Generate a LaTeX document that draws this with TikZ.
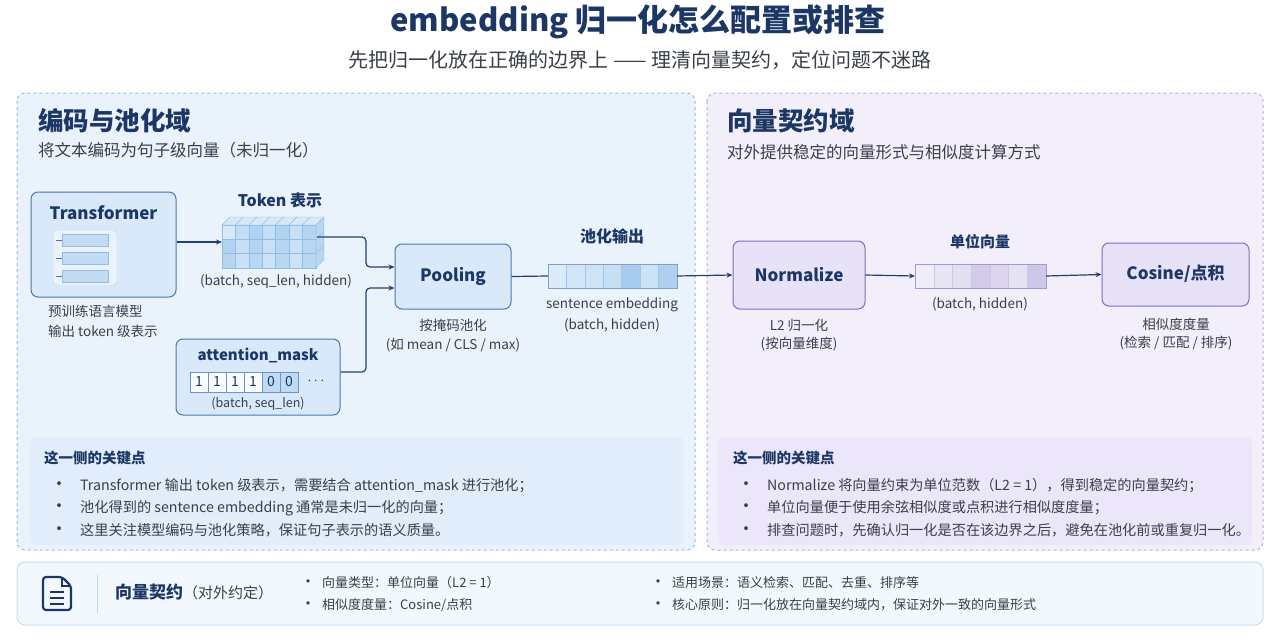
\documentclass[tikz,border=0pt]{standalone}
\usepackage{fontspec}
\setmainfont{Noto Sans CJK SC}
\usetikzlibrary{arrows.meta,calc}
\definecolor{navy}{HTML}{1C3766}
\definecolor{txt}{HTML}{3A3F4A}
\definecolor{bpanel}{HTML}{EAF3FC}
\definecolor{bborder}{HTML}{8FBDE8}
\definecolor{ppanel}{HTML}{F2EFFA}
\definecolor{pborder}{HTML}{B9A9E0}
\definecolor{bbox}{HTML}{D9E9F9}
\definecolor{bline}{HTML}{4A78B0}
\definecolor{sky}{HTML}{5FA3E0}
\definecolor{pbox}{HTML}{E8E2F8}
\definecolor{pline}{HTML}{7F6CC4}
\definecolor{arr}{HTML}{23416E}
\newcommand{\fs}[1]{\fontsize{#1}{#1}\selectfont}
\tikzset{
 every node/.style={inner sep=0pt,text=txt},
 box/.style={draw=bline,fill=bbox,rounded corners=7pt,line width=1pt},
 pbx/.style={draw=pline,fill=pbox,rounded corners=7pt,line width=1pt},
 ttl/.style={font=\fs{17}\bfseries,text=navy},
 lbl/.style={font=\fs{13.5},text=txt},
 con/.style={draw=arr,line width=1.2pt,-{Stealth[length=6pt,width=5pt]},rounded corners=4pt},
 bul/.style={font=\fs{14.2},text=txt,anchor=west},
}
\begin{document}
\begin{tikzpicture}[x=1pt,y=-1pt]
\useasboundingbox (0,0) rectangle (1280,640);
\fill[white] (0,0) rectangle (1280,640);
\node[font=\fs{31}\bfseries,text=navy] (title) at (638,22) {embedding 归一化怎么配置或排查};
\node[font=\fs{20},text=txt] (sub) at (640,60) {先把归一化放在正确的边界上 —— 理清向量契约，定位问题不迷路};
% panels
\draw[bborder,fill=bpanel,dashed,line width=1pt,rounded corners=8pt] (17,93) rectangle (695,550);
\draw[pborder,fill=ppanel,dashed,line width=1pt,rounded corners=8pt] (707,93) rectangle (1263,550);
\node[font=\fs{25.5}\bfseries,text=navy,anchor=west] (lh) at (38,121) {编码与池化域};
\node[font=\fs{16.5},text=txt,anchor=west] (ls) at (38,150) {将文本编码为句子级向量（未归一化）};
\node[font=\fs{25.5}\bfseries,text=navy,anchor=west] (rh) at (727,121) {向量契约域};
\node[font=\fs{16.5},text=txt,anchor=west] (rs) at (727,152) {对外提供稳定的向量形式与相似度计算方式};
% Transformer
\node[box,minimum width=145pt,minimum height=105pt] (tf) at (103.5,244.5) {};
\node[ttl] (tft) at (103.5,213) {Transformer};
\draw[bborder!70,fill=bpanel,rounded corners=4pt] (53,230) rectangle (117,285);
\foreach \y in {240,258,276}{\draw[bborder,fill=bbox!70!bborder] (62,\y-6) rectangle (108,\y+6); \draw[bline] (56,\y)--(62,\y);}
\node[lbl,anchor=west] (tfl1) at (48,311) {预训练语言模型};
\node[lbl,anchor=west] (tfl2) at (48,331) {输出 token 级表示};
% token cube
\def\cw{13.4}\def\ch{14.3}
\foreach \i in {0,...,6}{
 \foreach \j in {0,1,2}{
  \pgfmathsetmacro{\shh}{mod(\i*37+\j*23,25)+25}
  \draw[sky!70!white,fill=sky!\shh!white] (222+\i*\cw,225+\j*\ch) rectangle ++(\cw,\ch);}
 \draw[sky!70!white,fill=sky!25!white] (222+\i*\cw,225) -- ++(8,-8) -- ++(\cw,0) -- ++(-8,8) -- cycle;}
\foreach \j in {0,1,2}{\draw[sky!70!white,fill=sky!45!white] (222+7*\cw,225+\j*\ch) -- ++(8,-8) -- ++(0,\ch) -- ++(-8,8) -- cycle;}
\coordinate (cubeL) at (222,242);
\coordinate (cubeR) at (317,237);
\node[ttl,font=\fs{16}\bfseries] (tokt) at (280,200) {Token 表示};
\node[lbl] (tokl) at (276,282) {(batch, seq\_len, hidden)};
% Pooling
\node[box,minimum width=116pt,minimum height=65pt] (pool) at (453,276.5) {};
\node[ttl] (poolt) at (453,276) {Pooling};
\node[lbl] (pl1) at (453,325) {按掩码池化};
\node[lbl] (pl2) at (453,345) {(如 mean / CLS / max)};
% attention mask
\node[box,minimum width=164pt,minimum height=76pt] (am) at (258,377) {};
\node[ttl,font=\fs{15}\bfseries] (amt) at (258,355) {attention\_mask};
\foreach \v [count=\k from 0] in {1,1,1,1,0,0}{
 \ifnum\k>3 \def\cc{sky!40!white}\else\def\cc{white!85!bbox}\fi
 \draw[bline!80,fill=\cc] (190+\k*18,372) rectangle ++(18,20);
 \node[font=\fs{14},text=navy] at (199+\k*18,382) {\v};}
\node[font=\fs{14},text=navy] (dots) at (316,381) {$\cdots$};
\node[lbl,font=\fs{12.5}] (aml) at (258,404) {(batch, seq\_len)};
% connectors left
\draw[con] (tf.east|-cubeL) -- (cubeL);
\draw[con] (cubeR) -- (366,237) -- (366,267) -- (pool.west|-0,267);
\draw[con] (am.east|-0,372) -- (366,372) -- (366,288) -- (pool.west|-0,288);
% sentence embedding
\foreach \i [count=\k from 0] in {22,28,30,35,55,32,50}{\draw[sky!60!white,fill=sky!\i!white] (548+\k*18.4,264) rectangle ++(18.4,24);}
\draw[bline!70] (548,264) rectangle (677,288);
\coordinate (seL) at (548,276);\coordinate (seR) at (677,276);
\draw[arr,line width=1.2pt] (pool.east) -- (seL);
\node[ttl,font=\fs{16}\bfseries] (set) at (612,236) {池化输出};
\node[lbl] (sel1) at (612,305) {sentence embedding};
\node[lbl] (sel2) at (612,325) {(batch, hidden)};
% Normalize
\node[pbx,minimum width=132pt,minimum height=68pt] (norm) at (799,275) {};
\node[ttl] (normt) at (799,275) {Normalize};
\node[lbl] (nl1) at (799,325) {L2 归一化};
\node[lbl] (nl2) at (799,344) {(按向量维度)};
\draw[con] (seR) -- (norm.west);
% unit vector
\foreach \i [count=\k from 0] in {12,18,22,35,28,20,38}{\draw[pborder!70!white,fill=pline!\i!white] (915+\k*18.7,264) rectangle ++(18.7,24);}
\draw[pline!70] (915,264) rectangle (1046,288);
\coordinate (uvL) at (915,276);\coordinate (uvR) at (1046,276);
\node[ttl,font=\fs{15}\bfseries] (uvt) at (980,242) {单位向量};
\node[lbl] (uvl) at (980,304) {(batch, hidden)};
% Cosine
\node[pbx,minimum width=147pt,minimum height=63pt] (cos) at (1175.5,274.5) {};
\node[ttl] (cost) at (1175.5,274) {Cosine/点积};
\node[lbl] (cl1) at (1176,324) {相似度度量};
\node[lbl] (cl2) at (1176,343) {(检索 / 匹配 / 排序)};
\draw[con] (norm.east) -- (uvL);
\draw[con] (uvR) -- (cos.west);
% key points
\fill[bbox!80!white,rounded corners=6pt] (30,437) rectangle (684,545);
\node[font=\fs{14.5}\bfseries,text=navy,anchor=west] (lk) at (44,458) {这一侧的关键点};
\node[bul] (lb1) at (50,486) {{\fs{18}•}\hspace{12pt}Transformer 输出 token 级表示，需要结合 attention\_mask 进行池化；};
\node[bul] (lb2) at (50,508) {{\fs{18}•}\hspace{12pt}池化得到的 sentence embedding 通常是未归一化的向量；};
\node[bul] (lb3) at (50,530) {{\fs{18}•}\hspace{12pt}这里关注模型编码与池化策略，保证句子表示的语义质量。};
\fill[pbox!85!white,rounded corners=6pt] (718,437) rectangle (1252,545);
\node[font=\fs{14.5}\bfseries,text=navy,anchor=west] (rk) at (733,458) {这一侧的关键点};
\node[bul] (rb1) at (737,486) {{\fs{18}•}\hspace{12pt}Normalize 将向量约束为单位范数（L2 = 1），得到稳定的向量契约；};
\node[bul] (rb2) at (737,508) {{\fs{18}•}\hspace{12pt}单位向量便于使用余弦相似度或点积进行相似度度量；};
\node[bul] (rb3) at (737,530) {{\fs{18}•}\hspace{12pt}排查问题时，先确认归一化是否在该边界之后，避免在池化前或重复归一化。};
% bottom bar
\draw[draw=bborder!50!white,fill=bpanel!60!white,rounded corners=8pt,line width=1pt] (17,562) rectangle (1263,625);
\draw[navy,line width=2.2pt,rounded corners=3pt,line join=round] (43,577) -- (62,577) -- (71,586) -- (71,610) -- (43,610) -- cycle;
\draw[navy,line width=2pt] (62,577) -- (62,586) -- (71,586);
\foreach \y in {592,598,604}{\draw[navy,line width=1.8pt] (50,\y) -- (64,\y);}
\draw[bborder!60!white,line width=1pt] (97,575) -- (97,613);
\node[anchor=west] (vc) at (115,592) {\fs{17}\bfseries\color{navy}向量契约\mdseries\fs{15}\color{txt}（对外约定）};
\node[bul,font=\fs{13}] (bb1) at (300,583) {{\fs{16}•}\hspace{6pt}向量类型：单位向量（L2 = 1）};
\node[bul,font=\fs{13}] (bb2) at (300,605) {{\fs{16}•}\hspace{6pt}相似度度量：Cosine/点积};
\node[bul,font=\fs{13}] (bb3) at (650,583) {{\fs{16}•}\hspace{6pt}适用场景：语义检索、匹配、去重、排序等};
\node[bul,font=\fs{13}] (bb4) at (650,605) {{\fs{16}•}\hspace{6pt}核心原则：归一化放在向量契约域内，保证对外一致的向量形式};
\end{tikzpicture}
\end{document}
